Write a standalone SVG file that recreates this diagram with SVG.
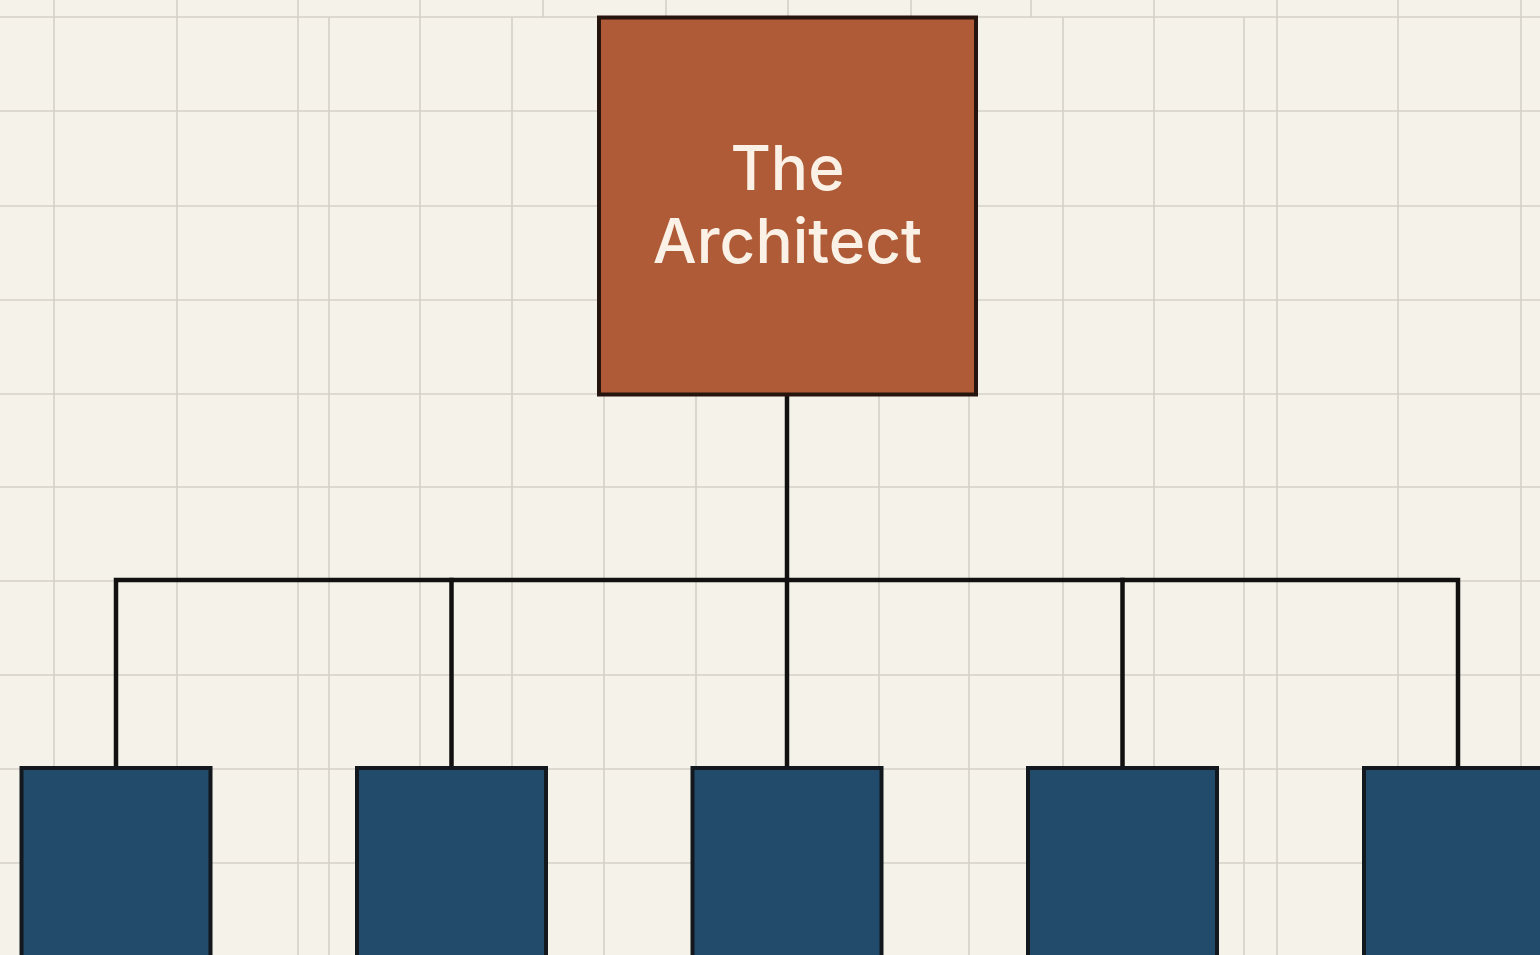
<svg xmlns="http://www.w3.org/2000/svg" width="1540" height="955" viewBox="0 0 1540 955">
  <style>
    .grid line { stroke: #d4d0c7; stroke-width: 1.6; }
    .link { stroke: #121110; stroke-width: 4.5; fill: none; stroke-linecap: square; }
    .lead { fill: #b05b37; stroke: #26150e; stroke-width: 4; }
    .unit { fill: #224a6a; stroke: #12181d; stroke-width: 4; }
    .label { font-family: Inter, "Liberation Sans", sans-serif; font-size: 62px; font-weight: 500; fill: #fbf1e6; text-anchor: middle; }
  </style>

  <!-- paper -->
  <rect x="0" y="0" width="1540" height="955" fill="#f5f2ea"/>

  <!-- grid -->
  <g class="grid">
    <!-- header strip columns -->
    <line x1="54" y1="0" x2="54" y2="17"/>
    <line x1="177" y1="0" x2="177" y2="17"/>
    <line x1="298" y1="0" x2="298" y2="17"/>
    <line x1="420" y1="0" x2="420" y2="17"/>
    <line x1="543" y1="0" x2="543" y2="17"/>
    <line x1="666" y1="0" x2="666" y2="17"/>
    <line x1="788" y1="0" x2="788" y2="17"/>
    <line x1="911" y1="0" x2="911" y2="17"/>
    <line x1="1031" y1="0" x2="1031" y2="17"/>
    <line x1="1154" y1="0" x2="1154" y2="17"/>
    <line x1="1277" y1="0" x2="1277" y2="17"/>
    <line x1="1398" y1="0" x2="1398" y2="17"/>
    <line x1="1521" y1="0" x2="1521" y2="17"/>
    <!-- main columns -->
    <line x1="54" y1="17" x2="54" y2="955"/>
    <line x1="177" y1="17" x2="177" y2="955"/>
    <line x1="298" y1="17" x2="298" y2="955"/>
    <line x1="329" y1="17" x2="329" y2="955"/>
    <line x1="420" y1="17" x2="420" y2="955"/>
    <line x1="512" y1="17" x2="512" y2="955"/>
    <line x1="604" y1="17" x2="604" y2="955"/>
    <line x1="696" y1="17" x2="696" y2="955"/>
    <line x1="879" y1="17" x2="879" y2="955"/>
    <line x1="969" y1="17" x2="969" y2="955"/>
    <line x1="1063" y1="17" x2="1063" y2="955"/>
    <line x1="1154" y1="17" x2="1154" y2="955"/>
    <line x1="1244" y1="17" x2="1244" y2="955"/>
    <line x1="1277" y1="17" x2="1277" y2="955"/>
    <line x1="1398" y1="17" x2="1398" y2="955"/>
    <line x1="1521" y1="17" x2="1521" y2="955"/>
    <!-- rows -->
    <line x1="0" y1="17" x2="1540" y2="17"/>
    <line x1="0" y1="111" x2="1540" y2="111"/>
    <line x1="0" y1="206" x2="1540" y2="206"/>
    <line x1="0" y1="300" x2="1540" y2="300"/>
    <line x1="0" y1="394" x2="1540" y2="394"/>
    <line x1="0" y1="487" x2="1540" y2="487"/>
    <line x1="0" y1="581" x2="1540" y2="581"/>
    <line x1="0" y1="675" x2="1540" y2="675"/>
    <line x1="0" y1="769" x2="1540" y2="769"/>
    <line x1="0" y1="863" x2="1540" y2="863"/>
  </g>

  <!-- connectors -->
  <g id="connectors">
    <path class="link" d="M787 395 V768"/>
    <path class="link" d="M116 768 V580 H1458 V768"/>
    <path class="link" d="M451.5 580 V768"/>
    <path class="link" d="M1122.5 580 V768"/>
  </g>

  <!-- head node -->
  <g id="architect">
    <rect class="lead" x="599" y="17.5" width="377" height="377"/>
    <text class="label" x="787.5" y="190">The</text>
    <text class="label" x="787.5" y="263">Architect</text>
  </g>

  <!-- child nodes -->
  <g id="unit-1"><rect class="unit" x="21.5" y="768" width="189" height="200"/></g>
  <g id="unit-2"><rect class="unit" x="357" y="768" width="189" height="200"/></g>
  <g id="unit-3"><rect class="unit" x="692.5" y="768" width="189" height="200"/></g>
  <g id="unit-4"><rect class="unit" x="1028" y="768" width="189" height="200"/></g>
  <g id="unit-5"><rect class="unit" x="1364" y="768" width="189" height="200"/></g>
</svg>
